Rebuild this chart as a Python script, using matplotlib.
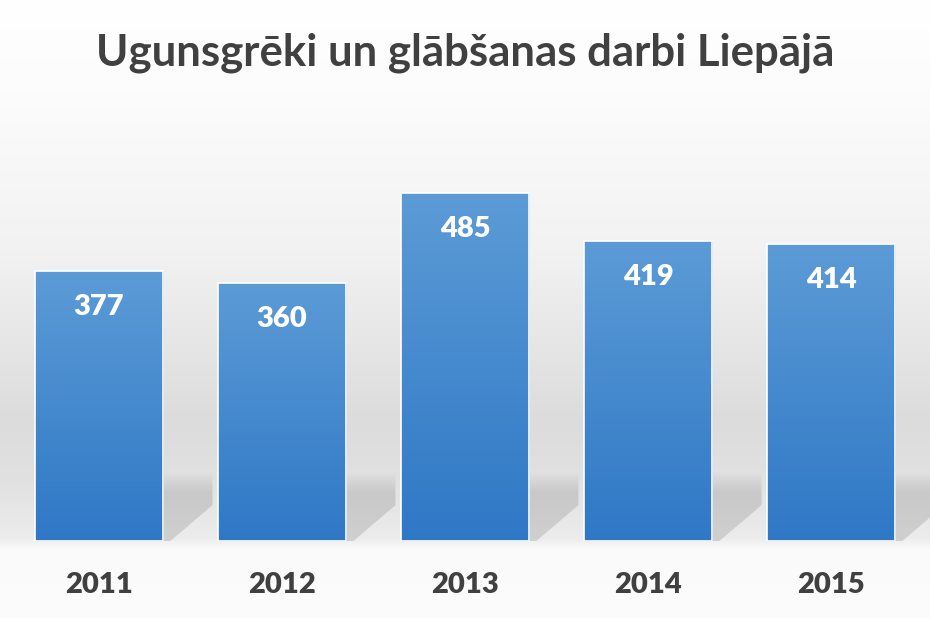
import numpy as np
import matplotlib
matplotlib.use("Agg")
import matplotlib.pyplot as plt
from matplotlib.colors import LinearSegmentedColormap
from matplotlib.patches import Polygon

title = "Ugunsgrēki un glābšanas darbi Liepājā"
years = ["2011", "2012", "2013", "2014", "2015"]
values = [377, 360, 485, 419, 414]

W, H, DPI = 930, 618, 100
fig = plt.figure(figsize=(W / DPI, H / DPI), dpi=DPI)

# background gradient (figure-wide)
bg_ax = fig.add_axes([0, 0, 1, 1], zorder=0)
bg_ax.set_axis_off()
ys = np.arange(H)
stops_y = [0, 90, 250, 420, 480, 538, 548, 618]
stops_g = [255, 252, 242, 220, 225, 236, 250, 252]
prof = np.interp(ys, stops_y, stops_g) / 255.0
img = np.repeat(prof[:, None], W, axis=1)
bg_ax.imshow(np.dstack([img, img, img]), aspect="auto", extent=[0, W, H, 0])
bg_ax.set_xlim(0, W)
bg_ax.set_ylim(H, 0)

# main axes
base_px, top_px = 541, 100
ax = fig.add_axes([0, (H - base_px) / H, 1, (base_px - top_px) / H], zorder=1)
ax.patch.set_alpha(0)
px_per_unit = 0.7167
ymax = (base_px - top_px) / px_per_unit
x = np.arange(len(values))
width = 0.70

bars = ax.bar(x, values, width=width, color="none", edgecolor="white",
              linewidth=1.2, zorder=4)

bar_cmap = LinearSegmentedColormap.from_list("bar", ["#2F78C6", "#5C9BD6"])
grad = np.linspace(0, 1, 256)[:, None]
shadow_cmap = LinearSegmentedColormap.from_list(
    "sh", [(0.55, 0.55, 0.55, 0.0), (0.55, 0.55, 0.55, 0.30)])

for b in bars:
    x0, y0 = b.get_x(), b.get_y()
    x1, y1 = x0 + b.get_width(), y0 + b.get_height()
    im = ax.imshow(grad, cmap=bar_cmap, origin="lower", aspect="auto",
                   extent=[x0, x1, y0, y1], zorder=3)
    im.set_clip_path(b)
    # shadow cast to the right of the bar
    sh_top = 95
    sw = 0.27
    poly = Polygon([(x1, 0), (x1, sh_top), (x1 + sw, sh_top),
                    (x1 + sw, 50), (x1 + 0.04, 0)], closed=True,
                   facecolor="none", edgecolor="none")
    ax.add_patch(poly)
    sgrad = np.concatenate([np.linspace(1, 1, 180), np.linspace(1, 0, 76)])[:, None]
    sim = ax.imshow(sgrad, cmap=shadow_cmap, origin="lower", aspect="auto",
                    extent=[x1, x1 + sw, 0, sh_top], zorder=2, vmin=0, vmax=1)
    sim.set_clip_path(poly)

for xi, v in zip(x, values):
    ax.annotate(str(v), xy=(xi, v), xytext=(0, -36), textcoords="offset pixels",
                ha="center", va="center", color="white", fontsize=21,
                fontweight="heavy", family="Lato", zorder=5)

span = 930 / 183
ax.set_xlim(-99 / 183, -99 / 183 + span)
ax.set_ylim(0, ymax)
ax.set_xticks(x)
ax.set_xticklabels(years, fontsize=21, fontweight="heavy", color="#404040",
                   family="Lato")
ax.tick_params(axis="x", length=0, pad=22)
ax.set_yticks([])
for s in ax.spines.values():
    s.set_visible(False)

fig.text(0.5, 1 - 53 / H, title, ha="center", va="center", fontsize=31.5,
         fontweight="bold", color="#404040", family="Lato")

fig.savefig("out.png", dpi=DPI)
